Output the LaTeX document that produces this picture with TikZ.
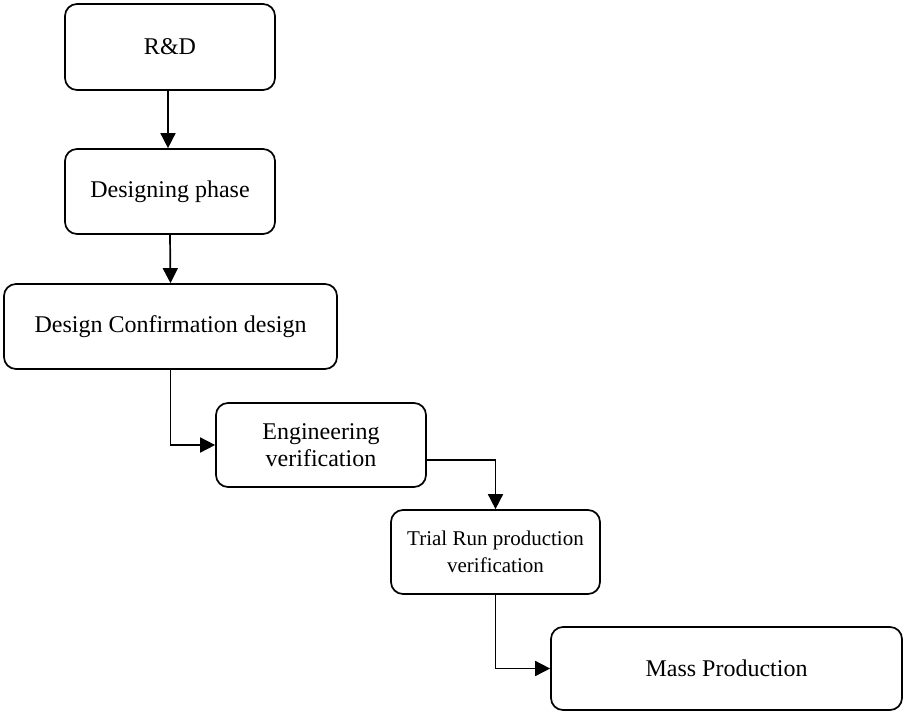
\documentclass[tikz,border=0pt]{standalone}
\usepackage{fontspec}
\setmainfont{Liberation Serif}
\usepackage{tikz}
\usetikzlibrary{positioning, arrows.meta, calc}
\tikzset{
  stageBox/.style={
    draw=black,
    line width=1.7pt,
    rounded corners=12pt,
    fill=white,
    align=center,
    inner sep=2pt,
    font=\fontsize{24pt}{27pt}\selectfont
  },
  smallStage/.style={
    stageBox,
    font=\fontsize{21pt}{27pt}\selectfont
  },
  flowArrow/.style={
    -{Triangle[length=15pt,width=15pt]},
    line width=1.7pt,
    draw=black
  }
}

\begin{document}
\begin{tikzpicture}[x=1pt, y=-1pt]
  \useasboundingbox (0,0) rectangle (904,711);
  % stages of the product flow
  \node[stageBox, minimum width=210pt, minimum height=86pt] (rd) at (170,47) {R\&D};
  \node[stageBox, minimum width=210pt, minimum height=85pt] (design) at (170,191.5) {Designing phase};
  \node[stageBox, minimum width=333pt, minimum height=85pt] (confirm) at (170.5,326.5) {Design Confirmation design};
  \node[stageBox, minimum width=210pt, minimum height=84pt] (engVerif) at (321,445) {Engineering\\verification};
  \node[smallStage, minimum width=209pt, minimum height=84pt] (trialRun) at (495.5,552) {Trial Run production\\verification};
  \node[stageBox, minimum width=351pt, minimum height=83pt] (massProd) at (726.5,668.5) {Mass Production};
  % connectors
  \draw[flowArrow] ([xshift=-2pt]rd.south) -- ([xshift=-2pt]design.north);
  \draw[flowArrow] (design.south) -- (confirm.north);
  \draw[flowArrow] (confirm.south) |- (engVerif.west);
  \draw[flowArrow] ([yshift=-15pt]engVerif.east) -| (trialRun.north);
  \draw[flowArrow] (trialRun.south) |- (massProd.west);
\end{tikzpicture}
\end{document}
